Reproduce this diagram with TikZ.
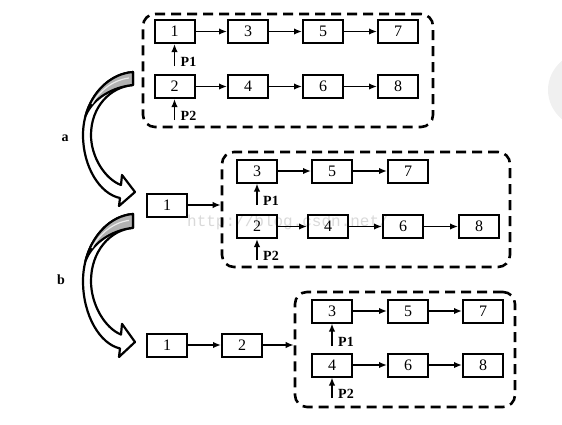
\documentclass[tikz,border=0pt]{standalone}
\usepackage{fontspec}
\setmainfont{Liberation Serif}
\newfontfamily\wmfont{Liberation Mono}
\usetikzlibrary{arrows.meta}
\newcommand\ribbonarrow{%
  \filldraw[fill=white,line width=2.2pt,line join=round]
    (-2,-120) .. controls (-30,-118) and (-52,-90) .. (-52,-57)
    .. controls (-52,-25) and (-35,2) .. (-15,6) -- (-16,14) -- (0,0) -- (-13,-17) -- (-14,-7)
    .. controls (-30,-13) and (-44,-35) .. (-44,-57)
    .. controls (-44,-85) and (-25,-105) .. (-2,-107) -- cycle;
  \filldraw[fill=gray!60,line width=2.2pt,line join=round]
    (-2,-120) .. controls (-24.4,-118.4) and (-43,-100.2) .. (-49.5,-76)
    .. controls (-42,-94) and (-22,-105) .. (-2,-107) -- cycle;
  \draw[gray!15,line width=1.2pt] (-6,-114) .. controls (-22,-112) and (-36,-101) .. (-43,-88);
}
\begin{document}
\begin{tikzpicture}[x=1pt,y=-1pt,
  bx/.style={draw,line width=2pt,minimum width=40pt,minimum height=23pt,inner sep=0pt,
    font=\fontsize{16}{16}\selectfont},
  con/.style={line width=1.6pt,-{Latex[length=8pt,width=6.5pt]}},
  grp/.style={draw,line width=2.6pt,dash pattern=on 10pt off 6pt,rounded corners=12pt,inner sep=0pt},
  plab/.style={anchor=base west,inner sep=0pt,font=\fontsize{14}{14}\selectfont\bfseries},
  lab/.style={inner sep=0pt,font=\fontsize{14}{14}\selectfont\bfseries}]
\useasboundingbox (0,0) rectangle (562,424);
\begin{scope}
  \clip (0,0) rectangle (562,424);
  \fill[gray!12] (592,90) ellipse [x radius=44, y radius=40];
\end{scope}
% watermark
\node[inner sep=0pt,text=gray!30,font=\wmfont\fontsize{16}{16}\selectfont] (wm) at (288,222) {http://blog.csdn.net/};
% big arrows
\begin{scope}[shift={(135,192)}]
  \ribbonarrow
\end{scope}
\begin{scope}[shift={(135,342)},yscale=1.067]
  \ribbonarrow
\end{scope}
\node[lab] (la) at (65,138) {a};
\node[lab] (lb) at (61,280) {b};
% diagram 1
\node[grp,minimum width=290pt,minimum height=113pt] (D1) at (288,70.5) {};
\node[bx] (a1) at (174.5,31.5) {1};
\node[bx] (a3) at (248,31.5) {3};
\node[bx] (a5) at (323,31.5) {5};
\node[bx] (a7) at (398,31.5) {7};
\node[bx] (a2) at (174.5,86.5) {2};
\node[bx] (a4) at (248,86.5) {4};
\node[bx] (a6) at (323,86.5) {6};
\node[bx] (a8) at (398,86.5) {8};
\draw[con] (a1) -- (a3); \draw[con] (a3) -- (a5); \draw[con] (a5) -- (a7);
\draw[con] (a2) -- (a4); \draw[con] (a4) -- (a6); \draw[con] (a6) -- (a8);
\coordinate (pa1) at (174.5,66);
\coordinate (pa2) at (174.5,120);
\draw[con] (pa1) -- (a1.south);
\draw[con] (pa2) -- (a2.south);
\node[plab] (pa1l) at ([xshift=6pt]pa1) {P1};
\node[plab] (pa2l) at ([xshift=6pt]pa2) {P2};
% diagram 2
\node[grp,minimum width=288pt,minimum height=115pt] (D2) at (366,209.5) {};
\node[bx] (b1) at (167,205) {1};
\node[bx] (b3) at (257,171) {3};
\node[bx] (b5) at (332,171) {5};
\node[bx] (b7) at (408,171) {7};
\node[bx] (b2) at (257,226.5) {2};
\node[bx] (b4) at (328,226.5) {4};
\node[bx] (b6) at (403,226.5) {6};
\node[bx] (b8) at (479,226.5) {8};
\draw[con] (b1.east) -- (b1.east -| D2.west);
\draw[con] (b3) -- (b5); \draw[con] (b5) -- (b7);
\draw[con] (b2) -- (b4); \draw[con] (b4) -- (b6); \draw[con] (b6) -- (b8);
\coordinate (pb1) at (257,205);
\coordinate (pb2) at (257,260);
\draw[con] (pb1) -- (b3.south);
\draw[con] (pb2) -- (b2.south);
\node[plab] (pb1l) at ([xshift=6pt]pb1) {P1};
\node[plab] (pb2l) at ([xshift=6pt]pb2) {P2};
% diagram 3
\node[grp,minimum width=220pt,minimum height=115pt] (D3) at (405,349.5) {};
\node[bx] (c1) at (167,345) {1};
\node[bx] (c2) at (242,345) {2};
\node[bx] (c3) at (332,311) {3};
\node[bx] (c5) at (408,311) {5};
\node[bx] (c7) at (483,311) {7};
\node[bx] (c4) at (332,365) {4};
\node[bx] (c6) at (408,365) {6};
\node[bx] (c8) at (483,365) {8};
\draw[con] (c1) -- (c2);
\draw[con] (c2.east) -- (c2.east -| D3.west);
\draw[con] (c3) -- (c5); \draw[con] (c5) -- (c7);
\draw[con] (c4) -- (c6); \draw[con] (c6) -- (c8);
\coordinate (pc1) at (332,346);
\coordinate (pc2) at (332,398);
\draw[con] (pc1) -- (c3.south);
\draw[con] (pc2) -- (c4.south);
\node[plab] (pc1l) at ([xshift=6pt]pc1) {P1};
\node[plab] (pc2l) at ([xshift=6pt]pc2) {P2};
\end{tikzpicture}
\end{document}
